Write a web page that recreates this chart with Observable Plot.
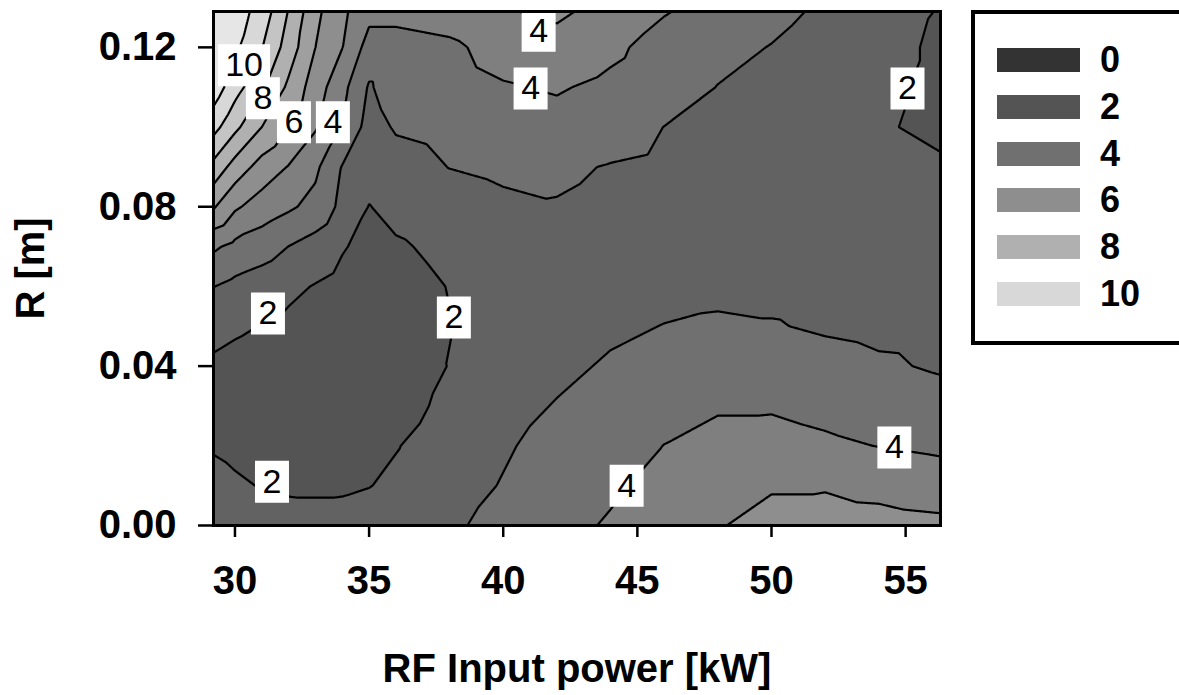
<!DOCTYPE html>
<html>
<head>
<meta charset="utf-8">
<script src="https://cdn.jsdelivr.net/npm/d3@7"></script>
<script src="https://cdn.jsdelivr.net/npm/@observablehq/plot@0.6"></script>
<style>
  html, body { margin: 0; padding: 0; background: #fff; }
  #wrap { position: relative; width: 1179px; height: 695px; overflow: hidden; font-family: "Liberation Sans", Arial, sans-serif; }
  #legend { position: absolute; left: 971px; top: 10px; width: 260px; height: 335px; border: 4px solid #000; box-sizing: border-box; background: #fff; }
  .sw { position: absolute; left: 22px; width: 83px; height: 24px; }
  .lab { position: absolute; left: 125px; font-size: 36px; font-weight: bold; line-height: 24px; color: #000; }
</style>
</head>
<body>
<div id="wrap"></div>
<script>
// ---- data ----
const xDomain = [29.2, 56.3];
const yDomain = [0, 0.129];
const xTicks = [30, 35, 40, 45, 50, 55];
const yTicks = [0, 0.04, 0.08, 0.12];

// grid columns (RF input power, kW) and rows (R, m), rows listed top to bottom
const xs = [29.2, 30, 31, 32, 33, 34, 35, 36, 38, 40, 42, 44, 46, 48, 50, 52, 54, 56.3];
const ys = [0.129, 0.12, 0.11, 0.10, 0.09, 0.08, 0.07, 0.06, 0.05, 0.04, 0.03, 0.02, 0.01, 0.0];
const zRows = [
  [11.0, 10.5, 9.6, 7.95, 6.25, 5.2, 4.3, 4.3, 4.5, 4.92, 5.2, 4.6, 4.06, 3.65, 3.25, 2.85, 2.4, 1.95],
  [10.8, 10.2, 9.05, 7.55, 6.0, 5.02, 3.6, 3.6, 3.8, 4.4, 4.6, 4.2, 3.63, 3.25, 2.97, 2.6, 2.2, 1.9],
  [10.6, 9.4, 8.2, 6.8, 5.5, 4.3, 2.9, 3.5, 3.6, 3.92, 4.08, 3.8, 3.45, 2.98, 2.7, 2.45, 2.2, 1.8],
  [9.35, 8.25, 7.0, 6.02, 5.1, 3.95, 2.6, 3.1, 3.3, 3.55, 3.7, 3.45, 2.99, 2.75, 2.55, 2.35, 2.12, 1.75],
  [7.7, 6.6, 5.6, 4.95, 4.2, 2.95, 2.4, 2.6, 3.02, 3.2, 3.15, 2.95, 2.8, 2.6, 2.45, 2.3, 2.2, 2.15],
  [6.1, 5.15, 4.55, 4.15, 3.7, 2.75, 1.97, 2.3, 2.55, 2.8, 2.95, 2.8, 2.65, 2.5, 2.4, 2.35, 2.3, 2.2],
  [4.15, 3.75, 3.45, 2.99, 2.6, 2.08, 1.7, 1.88, 2.25, 2.5, 2.65, 2.65, 2.6, 2.55, 2.5, 2.45, 2.4, 2.3],
  [3.02, 2.75, 2.5, 2.2, 1.95, 1.7, 1.55, 1.65, 2.03, 2.35, 2.55, 2.7, 2.75, 2.8, 2.8, 2.75, 2.7, 2.65],
  [2.3, 2.15, 1.97, 1.8, 1.6, 1.5, 1.45, 1.55, 1.97, 2.3, 2.6, 2.85, 3.02, 3.12, 3.05, 2.9, 2.8, 2.75],
  [1.85, 1.7, 1.55, 1.45, 1.38, 1.35, 1.35, 1.45, 2.03, 2.45, 2.8, 3.1, 3.35, 3.5, 3.45, 3.3, 3.12, 2.9],
  [1.75, 1.62, 1.5, 1.4, 1.35, 1.35, 1.4, 1.6, 2.25, 2.7, 3.05, 3.45, 3.75, 3.92, 3.92, 3.75, 3.55, 3.35],
  [1.9, 1.75, 1.6, 1.5, 1.45, 1.5, 1.7, 1.95, 2.5, 2.9, 3.3, 3.7, 4.01, 4.25, 4.3, 4.15, 3.98, 3.8],
  [2.35, 2.15, 1.95, 1.85, 1.85, 1.85, 1.97, 2.2, 2.65, 3.05, 3.45, 3.85, 4.3, 4.7, 4.93, 4.93, 4.75, 4.55],
  [2.7, 2.55, 2.45, 2.4, 2.35, 2.4, 2.5, 2.6, 2.85, 3.3, 3.7, 4.1, 4.55, 4.95, 5.25, 5.35, 5.3, 5.2]
];
const levels = [1, 2, 3, 4, 5, 6, 7, 8, 9, 10, 11];

// contour labels (drawn in this order)
const labelText = ["4", "4", "2", "2", "2", "2", "4", "4", "4", "6", "8", "10"];
const labelX = [41.32, 41.02, 55.07, 31.23, 38.16, 31.38, 44.6, 54.58, 33.65, 32.2, 31.04, 30.34];
const labelY = [0.1242, 0.1097, 0.1097, 0.0532, 0.0522, 0.011, 0.0100, 0.0196, 0.1012, 0.1012, 0.1072, 0.1155];

// legend
const legendLevels = [0, 2, 4, 6, 8, 10];
const legendColors = ["#333333", "#545454", "#707070", "#8e8e8e", "#b0b0b0", "#d8d8d8"];
const aboveTopColor = "#e6e6e6";

// ---- build ----
const points = [];
ys.forEach((y, i) => xs.forEach((x, j) => points.push({x, y, value: zRows[i][j]})));

const labels = labelText.map((t, i) => ({text: t, x: labelX[i], y: labelY[i]}));

// band between threshold t and t+1 is shaded with the legend colour of t+1
const colorDomain = legendLevels.map(v => v - 1).concat([legendLevels[legendLevels.length - 1]]);
const colorRange = legendColors.concat([aboveTopColor]);

const boxSymbol = (w, h) => ({
  draw(ctx) {
    ctx.moveTo(-w / 2, -h / 2); ctx.lineTo(w / 2, -h / 2);
    ctx.lineTo(w / 2, h / 2); ctx.lineTo(-w / 2, h / 2); ctx.closePath();
  }
});

const labelMarks = labels.flatMap(d => [
  Plot.dot([d], {x: "x", y: "y", symbol: boxSymbol(d.text.length > 1 ? 52 : 34, 42), fill: "white", stroke: "none", r: 1}),
  Plot.text([d], {x: "x", y: "y", text: "text", fontSize: 34, fontWeight: "normal", fill: "black"})
]);

const chart = Plot.plot({
  width: 1179,
  height: 695,
  marginLeft: 213,
  marginRight: 239,
  marginTop: 11,
  marginBottom: 170,
  style: {fontFamily: "'Liberation Sans', Arial, sans-serif", fontSize: "40px", fontWeight: "bold", color: "black", background: "transparent", overflow: "visible"},
  x: {domain: xDomain},
  y: {domain: yDomain},
  color: {type: "linear", domain: colorDomain, range: colorRange},
  marks: [
    Plot.contour(points, {x: "x", y: "y", fill: "value", thresholds: levels, interpolate: "barycentric", pixelSize: 1, stroke: "none"}),
    Plot.contour(points, {x: "x", y: "y", value: "value", fill: "none", thresholds: levels.slice(1), interpolate: "barycentric", pixelSize: 1, stroke: "black", strokeWidth: 2.2}),
    ...labelMarks,
    Plot.axisX({ticks: xTicks, tickSize: 12, tickPadding: 28, strokeWidth: 2.5, label: "RF Input power [kW]", labelAnchor: "center", labelArrow: "none", labelOffset: 156}),
    Plot.axisY({ticks: yTicks, tickFormat: d3.format(".2f"), tickSize: 15, tickPadding: 22, strokeWidth: 2.5, label: "R [m]", labelAnchor: "center", labelArrow: "none", labelOffset: 198}),
    Plot.frame({stroke: "black", strokeWidth: 3})
  ]
});

const wrap = document.getElementById("wrap");
wrap.appendChild(chart);

const legend = document.createElement("div");
legend.id = "legend";
legendLevels.forEach((v, i) => {
  const top = 34 + i * 46.8;
  const sw = document.createElement("div");
  sw.className = "sw";
  sw.style.top = top + "px";
  sw.style.background = legendColors[i];
  legend.appendChild(sw);
  const lb = document.createElement("div");
  lb.className = "lab";
  lb.style.top = top + "px";
  lb.textContent = String(v);
  legend.appendChild(lb);
});
wrap.appendChild(legend);
</script>
</body>
</html>
